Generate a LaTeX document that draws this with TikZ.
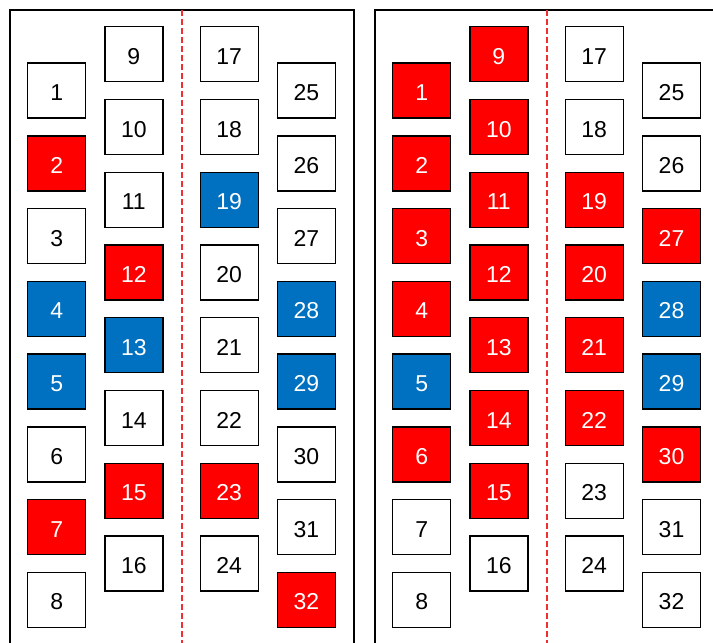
\documentclass[tikz,border=0pt]{standalone}
\usepackage{fontspec}
\setmainfont{Liberation Sans}
\definecolor{myred}{HTML}{FF0000}
\definecolor{myblue}{HTML}{0070C0}
\definecolor{dashred}{HTML}{F03030}
\tikzset{
  box/.style={draw=black, line width=1.4pt, minimum width=58pt, minimum height=55pt, inner sep=0pt, text height=20pt, text depth=0pt, font=\fontsize{23}{27}\selectfont},
  cw/.style={fill=white, text=black},
  cr/.style={fill=myred, text=white},
  cb/.style={fill=myblue, text=white},
  panel/.style={draw=black, line width=1.4pt},
  divider/.style={draw=dashred, line width=1.1pt, dash pattern=on 6pt off 3pt}
}
\newcommand\bx[5]{\node[box,#4] (#1) at (#2,#3) {#5};}
\begin{document}
\begin{tikzpicture}[x=1pt,y=-1pt]
\useasboundingbox (0,0) rectangle (713,643);
\clip (0,0) rectangle (713,643);
% panels
\draw[panel] (10,660) -- (10,10) -- (354,10) -- (354,660);
\draw[panel] (375,660) -- (375,10) -- (719,10) -- (719,660);
\coordinate (d1t) at (182,10); \coordinate (d1b) at (182,660);
\coordinate (d2t) at (547,10); \coordinate (d2b) at (547,660);
\draw[divider] (d1t) -- (d1b);
\draw[divider] (d2t) -- (d2b);
% left panel, column 1
\bx{L1}{56.7}{90.5}{cw}{1}
\bx{L2}{56.7}{163.3}{cr}{2}
\bx{L3}{56.7}{236.0}{cw}{3}
\bx{L4}{56.7}{308.8}{cb}{4}
\bx{L5}{56.7}{381.5}{cb}{5}
\bx{L6}{56.7}{454.3}{cw}{6}
\bx{L7}{56.7}{527.1}{cr}{7}
\bx{L8}{56.7}{599.8}{cw}{8}
% column 2
\bx{L9}{133.8}{54.2}{cw}{9}
\bx{L10}{133.8}{127.0}{cw}{10}
\bx{L11}{133.8}{199.7}{cw}{11}
\bx{L12}{133.8}{272.5}{cr}{12}
\bx{L13}{133.8}{345.2}{cb}{13}
\bx{L14}{133.8}{418.0}{cw}{14}
\bx{L15}{133.8}{490.8}{cr}{15}
\bx{L16}{133.8}{563.5}{cw}{16}
% column 3
\bx{L17}{229.2}{54.2}{cw}{17}
\bx{L18}{229.2}{127.0}{cw}{18}
\bx{L19}{229.2}{199.7}{cb}{19}
\bx{L20}{229.2}{272.5}{cw}{20}
\bx{L21}{229.2}{345.2}{cw}{21}
\bx{L22}{229.2}{418.0}{cw}{22}
\bx{L23}{229.2}{490.8}{cr}{23}
\bx{L24}{229.2}{563.5}{cw}{24}
% column 4
\bx{L25}{306.5}{90.5}{cw}{25}
\bx{L26}{306.5}{163.3}{cw}{26}
\bx{L27}{306.5}{236.0}{cw}{27}
\bx{L28}{306.5}{308.8}{cb}{28}
\bx{L29}{306.5}{381.5}{cb}{29}
\bx{L30}{306.5}{454.3}{cw}{30}
\bx{L31}{306.5}{527.1}{cw}{31}
\bx{L32}{306.5}{599.8}{cr}{32}
% right panel, column 1
\bx{R1}{421.7}{90.5}{cr}{1}
\bx{R2}{421.7}{163.3}{cr}{2}
\bx{R3}{421.7}{236.0}{cr}{3}
\bx{R4}{421.7}{308.8}{cr}{4}
\bx{R5}{421.7}{381.5}{cb}{5}
\bx{R6}{421.7}{454.3}{cr}{6}
\bx{R7}{421.7}{527.1}{cw}{7}
\bx{R8}{421.7}{599.8}{cw}{8}
% column 2
\bx{R9}{498.8}{54.2}{cr}{9}
\bx{R10}{498.8}{127.0}{cr}{10}
\bx{R11}{498.8}{199.7}{cr}{11}
\bx{R12}{498.8}{272.5}{cr}{12}
\bx{R13}{498.8}{345.2}{cr}{13}
\bx{R14}{498.8}{418.0}{cr}{14}
\bx{R15}{498.8}{490.8}{cr}{15}
\bx{R16}{498.8}{563.5}{cw}{16}
% column 3
\bx{R17}{594.2}{54.2}{cw}{17}
\bx{R18}{594.2}{127.0}{cw}{18}
\bx{R19}{594.2}{199.7}{cr}{19}
\bx{R20}{594.2}{272.5}{cr}{20}
\bx{R21}{594.2}{345.2}{cr}{21}
\bx{R22}{594.2}{418.0}{cr}{22}
\bx{R23}{594.2}{490.8}{cw}{23}
\bx{R24}{594.2}{563.5}{cw}{24}
% column 4
\bx{R25}{671.5}{90.5}{cw}{25}
\bx{R26}{671.5}{163.3}{cw}{26}
\bx{R27}{671.5}{236.0}{cr}{27}
\bx{R28}{671.5}{308.8}{cb}{28}
\bx{R29}{671.5}{381.5}{cb}{29}
\bx{R30}{671.5}{454.3}{cr}{30}
\bx{R31}{671.5}{527.1}{cw}{31}
\bx{R32}{671.5}{599.8}{cw}{32}
\end{tikzpicture}
\end{document}
